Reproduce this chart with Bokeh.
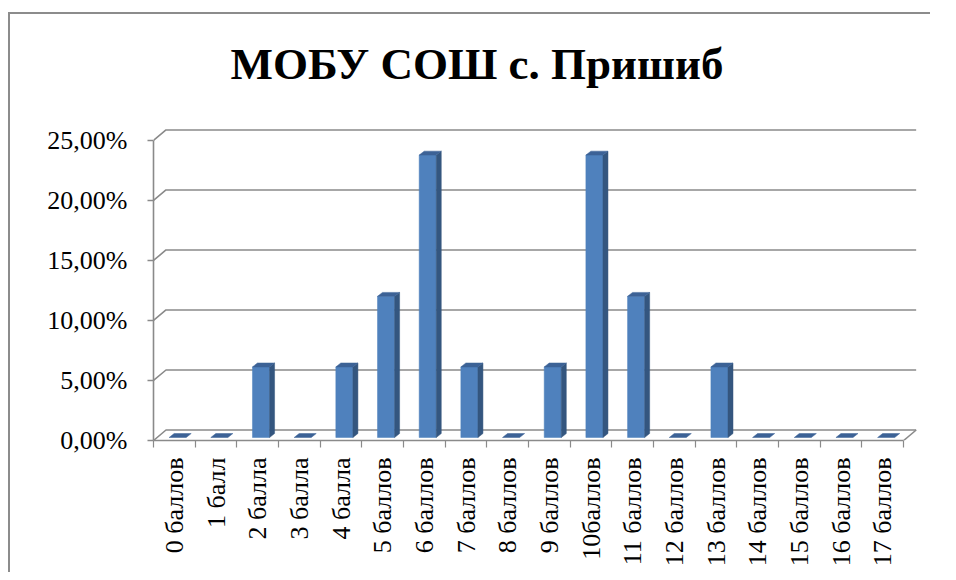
import numpy as np
from bokeh.plotting import figure
from bokeh.layouts import column
from bokeh.models import FixedTicker, Range1d
from bokeh.embed import file_html
from bokeh.resources import INLINE

# ---- data ----
categories = ["0 баллов", "1 балл", "2 балла", "3 балла", "4 балла", "5 баллов",
              "6 баллов", "7 баллов", "8 баллов", "9 баллов", "10баллов", "11 баллов",
              "12 баллов", "13 баллов", "14 баллов", "15 баллов", "16 баллов", "17 баллов"]
shares = [0, 0, 5.88, 0, 5.88, 11.76, 23.53, 5.88, 0, 5.88, 23.53, 11.76, 0, 5.88, 0, 0, 0, 0]
y_ticks = [0, 5, 10, 15, 20, 25]
y_tick_labels = ["0,00%", "5,00%", "10,00%", "15,00%", "20,00%", "25,00%"]
title_text = "МОБУ СОШ с. Пришиб"

# ---- style constants ----
GRID = "#8a8a8a"
BORDER = "#8c8c8c"
FRONT = "#4f81bd"
SIDE = "#34567f"
TOP = "#3c6296"
FONT = "'Liberation Serif', 'Times New Roman', serif"

n = len(categories)
vals = np.array(shares, dtype=float)
centers = np.arange(n) + 0.5
x_end = 18.38
y_end = 26.33

# 3-D offsets (wall depth, bar placement)
dx, dy = 0.30, 0.875
ox, oy = 0.08, 0.25
bw, sx, sy = 0.41, 0.12, 0.33

p = figure(width=930, height=572, output_backend="svg", toolbar_location=None,
           x_range=Range1d(0, x_end), y_range=Range1d(0, y_end),
           min_border_left=153, min_border_right=11, min_border_top=124,
           min_border_bottom=132)
p.outline_line_color = None
p.xgrid.visible = False
p.ygrid.visible = False
p.background_fill_color = "white"
p.border_fill_color = None

p.title.text = title_text
p.title.text_font = FONT
p.title.text_font_style = "bold"
p.title.text_font_size = "45px"
p.title.text_color = "black"
p.title.align = "left"
p.title.offset = 77
p.title.vertical_align = "bottom"
p.title.standoff = 72

# back wall gridlines with left diagonals
gx, gy = [], []
for t in y_ticks:
    gx.append([0, dx, n + dx])
    gy.append([t, t + dy, t + dy])
p.multi_line(gx, gy, line_color=GRID, line_width=1.6)
# floor right edge
p.line([n, n + dx], [0, dy], line_color=GRID, line_width=1.6)

# bars
tops = vals + oy
xl = centers - bw / 2 + ox
xr = centers + bw / 2 + ox
pos = vals > 0
p.quad(left=xl[pos], right=xr[pos], bottom=oy, top=tops[pos],
       fill_color=FRONT, line_color=FRONT, line_width=0.5)
side_xs = [[a, a + sx, a + sx, a] for a in xr[pos]]
side_ys = [[oy, oy + sy, t + sy, t] for t in tops[pos]]
p.patches(side_xs, side_ys, fill_color=SIDE, line_color=SIDE, line_width=0.5)
top_xs = [[a, b, b + sx, a + sx] for a, b in zip(xl, xr)]
top_ys = [[t, t, t + sy, t + sy] for t in tops]
p.patches(top_xs, top_ys, fill_color=TOP, line_color=TOP, line_width=0.5)

# y axis
ya = p.yaxis[0]
ya.ticker = FixedTicker(ticks=y_ticks, minor_ticks=[])
ya.major_label_overrides = {t: s for t, s in zip(y_ticks, y_tick_labels)}
ya.bounds = (0, 25)
ya.axis_line_color = GRID
ya.axis_line_width = 1.6
ya.major_tick_line_color = GRID
ya.major_tick_line_width = 1.6
ya.major_tick_out = 6
ya.major_tick_in = 0
ya.minor_tick_line_color = None
ya.major_label_standoff = 20
ya.major_label_text_font = FONT
ya.major_label_text_font_size = "26px"
ya.major_label_text_color = "black"

# x axis
xa = p.xaxis[0]
xa.ticker = FixedTicker(ticks=list(centers), minor_ticks=list(range(n + 1)))
xa.major_label_overrides = {float(c): s for c, s in zip(centers, categories)}
xa.bounds = (0, n)
xa.axis_line_color = GRID
xa.axis_line_width = 1.6
xa.major_tick_line_color = None
xa.major_tick_out = 0
xa.major_tick_in = 0
xa.minor_tick_line_color = GRID
xa.minor_tick_line_width = 1.2
xa.minor_tick_out = 7
xa.minor_tick_in = 0
xa.major_label_orientation = np.pi / 2
xa.major_label_standoff = 10
xa.major_label_text_font = FONT
xa.major_label_text_font_size = "26px"
xa.major_label_text_color = "black"

# chart-area border (left and top edges) painted behind the transparent canvas
root = column(p, styles={
    "overflow": "hidden",
    "background-color": "white",
    "background-image": f"linear-gradient({BORDER}, {BORDER}), linear-gradient({BORDER}, {BORDER})",
    "background-size": "2px 2000px, 2000px 2px",
    "background-position": "8px 12px, 8px 12px",
    "background-repeat": "no-repeat",
})

open("out.html", "w").write(file_html(root, INLINE))
